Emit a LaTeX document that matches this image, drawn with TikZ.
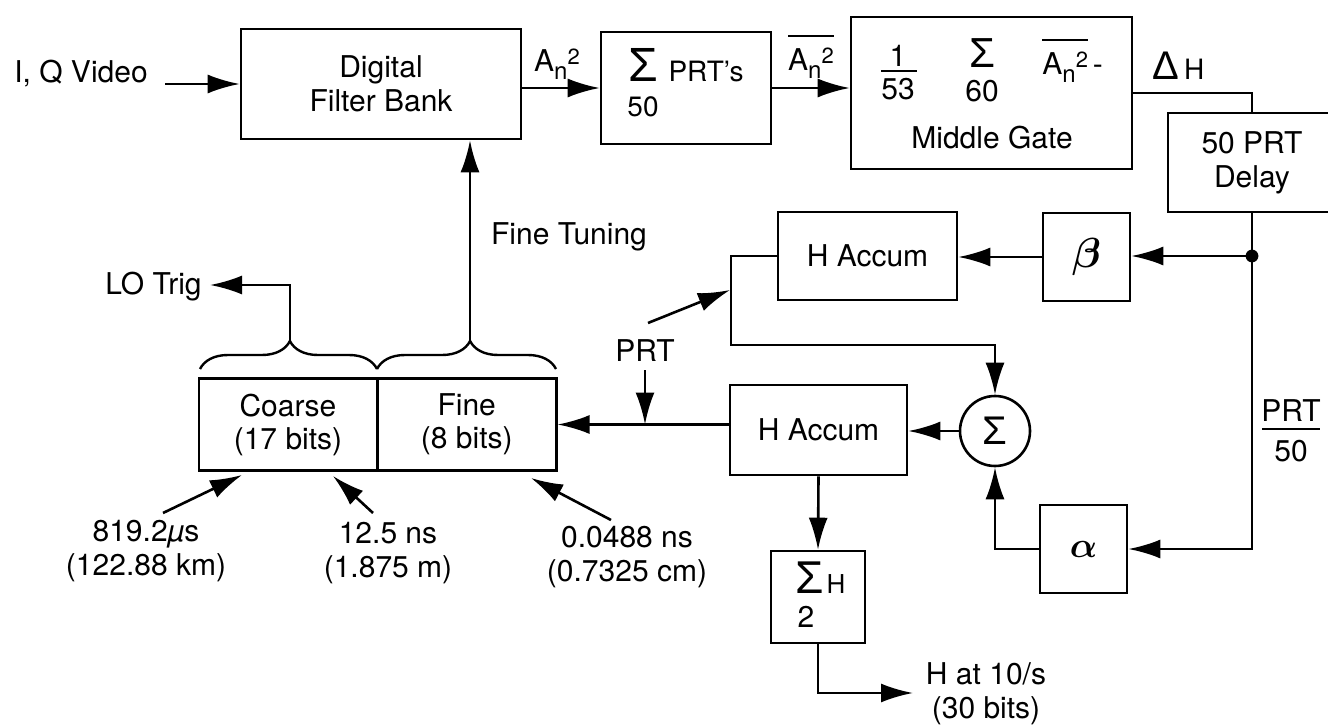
\RequirePackage{fix-cm}
\documentclass[tikz,border=0pt]{standalone}
\usepackage{amsmath}
\usepackage{fontspec}
\setmainfont{TeX Gyre Heros}
\newfontfamily\grk{Liberation Sans}
\usetikzlibrary{arrows.meta,decorations.pathreplacing}
\newcommand{\Anq}{A\raisebox{-4pt}{\fontsize{12}{12}\selectfont n}\raisebox{3.8pt}{\fontsize{11}{11}\selectfont 2}}
\newcommand{\Anqbar}{$\overline{\hbox{\rule{0pt}{15.5pt}\Anq}}$}
\begin{document}
\begin{tikzpicture}[x=0.5pt,y=-0.5pt,
  font=\fontsize{15}{17}\selectfont,
  blk/.style={draw, line width=1.3pt, inner sep=0pt, align=center},
  ln/.style={line width=1.3pt},
  arr/.style={line width=1.3pt, -{Latex[length=16pt,width=9.5pt]}},
  lbl/.style={inner sep=0pt, align=center},
  brc/.style={line width=1.2pt, decorate, decoration={brace, amplitude=14pt, aspect=#1}}
]
\useasboundingbox (0,0) rectangle (1328,727);

% ---------- blocks ----------
\node[blk, minimum width=140pt, minimum height=55pt] (dfb) at (381,84) {Digital\\Filter Bank};
\node[blk, minimum width=85pt, minimum height=56pt] (sp) at (686,88) {};
\node[blk, minimum width=140.5pt, minimum height=76pt] (mg) at (991.5,93) {};
\node[blk, minimum width=84pt, minimum height=49.5pt] (dl) at (1252,162.5) {50 PRT\\Delay};
\node[blk, minimum width=43.5pt, minimum height=44pt] (beta) at (1086.5,257) {\fontsize{21}{21}\selectfont$\boldsymbol{\beta}$};
\node[blk, minimum width=89.5pt, minimum height=44pt] (ha1) at (867.5,256) {H Accum};
\node[blk, minimum width=88.5pt, minimum height=45pt] (ha2) at (818.5,430) {H Accum};
\node[draw, circle, line width=1.3pt, minimum size=35pt, inner sep=0pt] (sig) at (995,431) {\grk\fontsize{20}{20}\selectfont Σ};
\node[blk, minimum width=43.5pt, minimum height=44pt] (alpha) at (1083.5,549) {\fontsize{18}{18}\selectfont$\boldsymbol{\alpha}$};
\node[blk, minimum width=47pt, minimum height=46pt] (sh) at (818,597) {};
\node[blk, minimum width=89pt, minimum height=46pt, font=\fontsize{15}{16.5}\selectfont] (co) at (288,424.5) {Coarse\\(17 bits)};
\node[blk, minimum width=89.5pt, minimum height=46pt, font=\fontsize{15}{16.5}\selectfont] (fi) at (466.75,424.5) {Fine\\(8 bits)};

% ---------- texts inside blocks ----------
\node[lbl] (spS) at (643,65) {\grk\fontsize{24}{24}\selectfont Σ};
\node[lbl] (spT) at (706,72) {\fontsize{14}{14}\selectfont PRT's};
\node[lbl] (sp50) at (643,107) {\fontsize{14}{14}\selectfont 50};
\node[lbl] (mg1) at (898,56) {1};
\node[lbl] (mg53) at (898,89) {53};
\draw[ln] (881,71) -- (917,71);
\node[lbl] (mgS) at (982,53) {\grk\fontsize{21}{21}\selectfont Σ};
\node[lbl] (mg60) at (982,91) {60};
\node[lbl, anchor=base west] (mgA) at (1042,75) {\Anqbar\,-};
\node[lbl] (mgG) at (992,138) {Middle Gate};
\node[lbl] (shS) at (810,578) {\grk\fontsize{23}{23}\selectfont Σ};
\node[lbl] (shH) at (836,584) {\fontsize{13}{13}\selectfont H};
\node[lbl] (sh2) at (806,617) {2};

% ---------- free labels ----------
\node[lbl] (iq) at (81,74) {I, Q Video};
\node[lbl, anchor=base] (a1) at (557,72) {\Anq};
\node[lbl, anchor=base] (a2) at (811,71) {\Anqbar};
\node[lbl, anchor=base west] (dh) at (1152,80) {{\grk\fontsize{20}{20}\selectfont Δ}\,{\fontsize{14}{14}\selectfont H}};
\node[lbl] (ft) at (569,237) {Fine Tuning};
\node[lbl, anchor=base east] (lo) at (202,295) {LO Trig};
\node[lbl] (prt) at (645,351) {PRT};
\node[lbl] (p50a) at (1291,411) {PRT};
\node[lbl] (p50b) at (1291,451) {50};
\draw[ln] (1262,429) -- (1320,429);
\node[lbl] (m1) at (146,551) {819.2\textit{µ}s\\(122.88 km)};
\node[lbl] (m2) at (388,553) {12.5 ns\\(1.875 m)};
\node[lbl] (m3) at (627,557) {0.0488 ns\\(0.7325 cm)};
\node[lbl] (out) at (986,694) {H at 10/s\\(30 bits)};

% ---------- coordinates for free ends ----------
\coordinate (iqs) at (165,84);
\coordinate (dot) at (1252,256);
\coordinate (k1) at (731,345);
\coordinate (p1s) at (648,323);
\coordinate (p1e) at (730,290);
\coordinate (p2s) at (645,370);
\coordinate (bt1) at (290,341);
\coordinate (bt2) at (470,341);
\coordinate (lotip) at (210,285);
\coordinate (outt) at (913,693);
\coordinate (c1s) at (163,513);
\coordinate (c1e) at (242,475);
\coordinate (c2s) at (373,513);
\coordinate (c2e) at (333,476);
\coordinate (c3s) at (611,520);
\coordinate (c3e) at (531,478);

% ---------- braces ----------
\draw[brc=0.508] (200,369) -- (377,369);
\draw[brc=0.52] (377,369) -- (556,369);

% ---------- connectors ----------
\draw[arr] (iqs) -- (iqs -| dfb.west);
\draw[arr] (dfb.east |- sp.west) -- (sp.west);
\draw[arr] (sp.east) -- (sp.east -| mg.west);
\draw[ln] (mg.east) -| (dl.north);
\draw[ln] (dl.south) -- (dot);
\fill (dot) circle (3.2pt);
\draw[arr] (dot) -- (dot -| beta.east);
\draw[arr] (dot) |- (alpha.east);
\draw[arr] (beta.west) -- (beta.west -| ha1.east);
\draw[arr] (ha1.west) -| (k1) -| (sig.north);
\draw[arr] (p1s) -- (p1e);
\draw[arr] (p2s) -- (p2s |- fi.east);
\draw[arr] (ha2.west |- fi.east) -- (fi.east);
\draw[arr] (sig.west) -- (sig.west -| ha2.east);
\draw[arr] (alpha.west) -| (sig.south);
\draw[arr] (ha2.south) -- (sh.north);
\draw[arr] (sh.south) |- (outt);
\draw[arr] (bt1) |- (lotip);
\draw[arr] (bt2) -- (bt2 |- dfb.south);
\draw[arr] (c1s) -- (c1e);
\draw[arr] (c2s) -- (c2e);
\draw[arr] (c3s) -- (c3e);
\end{tikzpicture}
\end{document}
